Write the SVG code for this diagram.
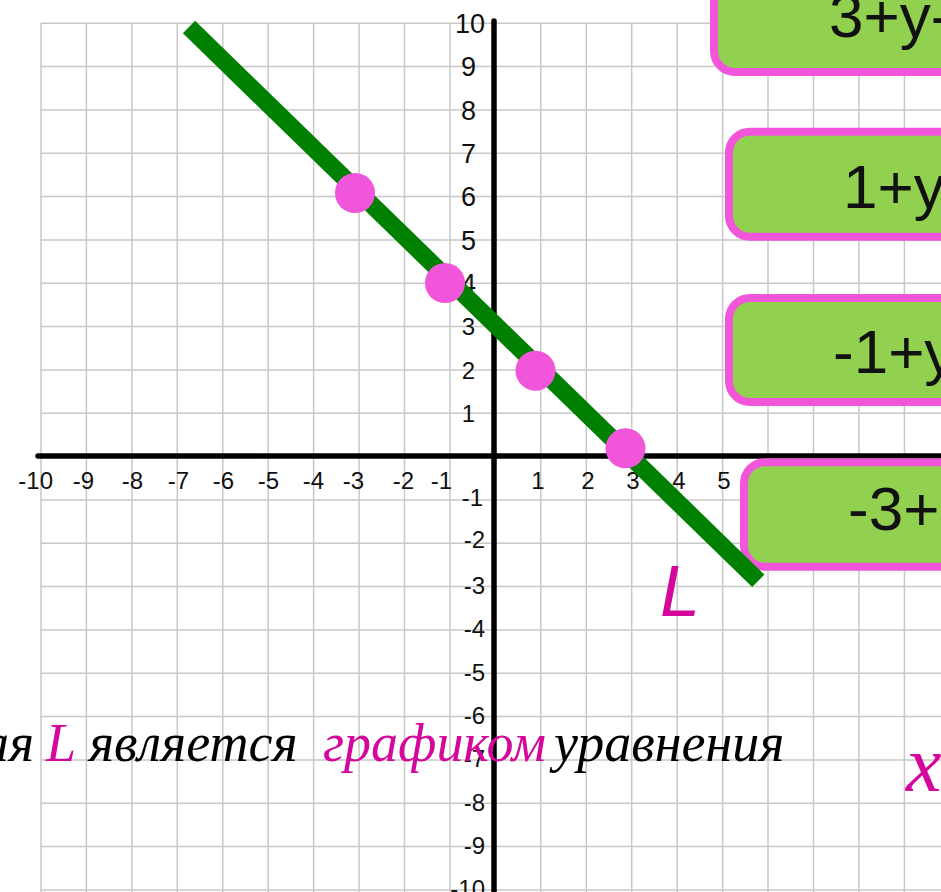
<svg xmlns="http://www.w3.org/2000/svg" width="941" height="892" viewBox="0 0 941 892">
<style>
.grid line{stroke:#c8c8c8;stroke-width:1.5}
.axis{stroke:#000;stroke-width:5.5;stroke-linecap:round}
.lbl{font-family:"Liberation Sans",Arial,sans-serif;font-size:24px;fill:#111}
.lblb{font-family:"Liberation Sans",Arial,sans-serif;font-size:27px;fill:#111}
.box rect{fill:#92d050;stroke:#f055da;stroke-width:8}
.box text{font-family:"Liberation Sans",Arial,sans-serif;font-size:62px;fill:#111}
.dot{fill:#f055da}
.pink{fill:#d4069b}
.ser{font-family:"Liberation Serif","Times New Roman",serif;font-style:italic;font-size:54px;fill:#000}
</style>
<rect width="941" height="892" fill="#fff"/>
<g class="grid" id="grid">
<line x1="41" y1="23" x2="41" y2="892"/><line x1="86.4" y1="23" x2="86.4" y2="892"/><line x1="131.9" y1="23" x2="131.9" y2="892"/><line x1="177.3" y1="23" x2="177.3" y2="892"/><line x1="222.8" y1="23" x2="222.8" y2="892"/><line x1="268.2" y1="23" x2="268.2" y2="892"/><line x1="313.6" y1="23" x2="313.6" y2="892"/><line x1="359.1" y1="23" x2="359.1" y2="892"/><line x1="404.5" y1="23" x2="404.5" y2="892"/><line x1="450" y1="23" x2="450" y2="892"/><line x1="540.8" y1="23" x2="540.8" y2="892"/><line x1="586.3" y1="23" x2="586.3" y2="892"/><line x1="631.7" y1="23" x2="631.7" y2="892"/><line x1="677.2" y1="23" x2="677.2" y2="892"/><line x1="722.6" y1="23" x2="722.6" y2="892"/><line x1="768" y1="23" x2="768" y2="892"/><line x1="813.5" y1="23" x2="813.5" y2="892"/><line x1="858.9" y1="23" x2="858.9" y2="892"/><line x1="904.4" y1="23" x2="904.4" y2="892"/>
<line x1="41" y1="23.3" x2="941" y2="23.3"/><line x1="41" y1="66.6" x2="941" y2="66.6"/><line x1="41" y1="110" x2="941" y2="110"/><line x1="41" y1="153.3" x2="941" y2="153.3"/><line x1="41" y1="196.6" x2="941" y2="196.6"/><line x1="41" y1="240" x2="941" y2="240"/><line x1="41" y1="283.3" x2="941" y2="283.3"/><line x1="41" y1="326.6" x2="941" y2="326.6"/><line x1="41" y1="370" x2="941" y2="370"/><line x1="41" y1="413.3" x2="941" y2="413.3"/><line x1="41" y1="500" x2="941" y2="500"/><line x1="41" y1="543.3" x2="941" y2="543.3"/><line x1="41" y1="586.6" x2="941" y2="586.6"/><line x1="41" y1="630" x2="941" y2="630"/><line x1="41" y1="673.3" x2="941" y2="673.3"/><line x1="41" y1="716.6" x2="941" y2="716.6"/><line x1="41" y1="760" x2="941" y2="760"/><line x1="41" y1="803.3" x2="941" y2="803.3"/><line x1="41" y1="846.6" x2="941" y2="846.6"/><line x1="41" y1="890" x2="941" y2="890"/>
</g>
<g id="axes">
<line class="axis" x1="38" y1="456" x2="945" y2="456"/>
<line class="axis" x1="494" y1="21" x2="494" y2="896"/>
</g>
<g id="xlabels" class="lbl">
<text x="53" y="488.5" text-anchor="end">-10</text>
<text x="94" y="488.5" text-anchor="end">-9</text>
<text x="143" y="488.5" text-anchor="end">-8</text>
<text x="189" y="488.5" text-anchor="end">-7</text>
<text x="234" y="488.5" text-anchor="end">-6</text>
<text x="279" y="488.5" text-anchor="end">-5</text>
<text x="324" y="488.5" text-anchor="end">-4</text>
<text x="364" y="488.5" text-anchor="end">-3</text>
<text x="414" y="488.5" text-anchor="end">-2</text>
<text x="452" y="488.5" text-anchor="end">-1</text>
<text x="538" y="488.5" text-anchor="middle">1</text>
<text x="588" y="488.5" text-anchor="middle">2</text>
<text x="633" y="488.5" text-anchor="middle">3</text>
<text x="679" y="488.5" text-anchor="middle">4</text>
<text x="724" y="488.5" text-anchor="middle">5</text>
</g>
<g id="ylabels">
<text class="lblb" x="485" y="33" text-anchor="end">10</text>
<text class="lblb" x="476" y="76.3" text-anchor="end">9</text>
<text class="lblb" x="476" y="119.6" text-anchor="end">8</text>
<text class="lblb" x="476" y="163" text-anchor="end">7</text>
<text class="lblb" x="476" y="206.3" text-anchor="end">6</text>
<text class="lblb" x="476" y="249.6" text-anchor="end">5</text>
<text class="lblb" x="476" y="293" text-anchor="end">4</text>
<text class="lbl" x="475" y="335.2" text-anchor="end">3</text>
<text class="lbl" x="475" y="378.5" text-anchor="end">2</text>
<text class="lbl" x="475" y="422" text-anchor="end">1</text>
<text class="lbl" x="483" y="506" text-anchor="end">-1</text>
<text class="lbl" x="485" y="548" text-anchor="end">-2</text>
<text class="lbl" x="485" y="593.5" text-anchor="end">-3</text>
<text class="lbl" x="485" y="636.5" text-anchor="end">-4</text>
<text class="lbl" x="485" y="680.5" text-anchor="end">-5</text>
<text class="lbl" x="485" y="723.5" text-anchor="end">-6</text>
<text class="lbl" x="485" y="766.5" text-anchor="end">-7</text>
<text class="lbl" x="485" y="810.5" text-anchor="end">-8</text>
<text class="lbl" x="485" y="853.5" text-anchor="end">-9</text>
<text class="lbl" x="485" y="896.5" text-anchor="end">-10</text>
</g>
<g id="box1" class="box"><rect x="714" y="-33" width="280" height="105" rx="21"/><text x="829" y="37">3+y-</text></g>
<g id="box2" class="box"><rect x="729" y="131.7" width="280" height="105" rx="21"/><text x="843" y="208">1+y</text></g>
<g id="box3" class="box"><rect x="729" y="298" width="280" height="104" rx="21"/><text x="833" y="373">-1+y</text></g>
<g id="box4" class="box"><rect x="744" y="462.3" width="280" height="104.4" rx="21"/><text x="848" y="530">-3+</text></g>
<g id="line-L"><line x1="189" y1="27" x2="758.3" y2="580.8" stroke="#008000" stroke-width="17.5"/></g>
<g id="points">
<circle class="dot" cx="355" cy="193" r="20"/>
<circle class="dot" cx="445" cy="283" r="20"/>
<circle class="dot" cx="535.5" cy="370.7" r="20"/>
<circle class="dot" cx="625.5" cy="448.3" r="20"/>
</g>
<g id="label-L"><text x="660" y="616" class="pink" font-family="Liberation Sans, Arial, sans-serif" font-style="italic" font-size="72">L</text></g>
<g id="caption" class="ser">
<text x="-18" y="761">ая</text>
<text x="46" y="761" class="pink">L</text>
<text x="89" y="761">является</text>
<text x="323" y="761" class="pink">графиком</text>
<text x="554" y="761">уравнения</text>
<text x="906" y="791" class="pink" font-size="80">x</text>
</g>
</svg>
